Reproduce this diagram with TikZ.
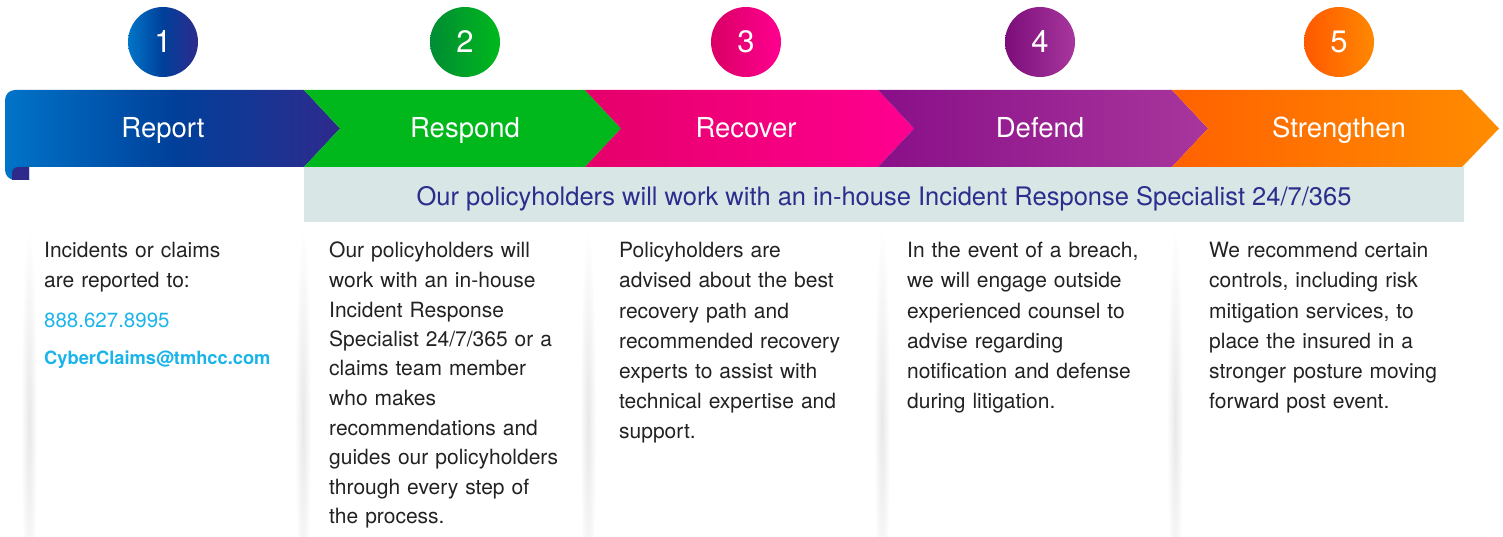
\documentclass[tikz,border=0pt]{standalone}
\usepackage{fontspec}
\setmainfont{TeX Gyre Heros}
\usepackage{tikz}

\definecolor{rptA}{HTML}{0074C8}
\definecolor{rptB}{HTML}{00409A}
\definecolor{rptC}{HTML}{2E2A8C}
\definecolor{rspA}{HTML}{008C34}
\definecolor{rspB}{HTML}{00B81C}
\definecolor{rcvA}{HTML}{E5006A}
\definecolor{rcvB}{HTML}{FF0090}
\definecolor{dfnA}{HTML}{890F88}
\definecolor{dfnB}{HTML}{A8369D}
\definecolor{strA}{HTML}{FF6200}
\definecolor{strB}{HTML}{FF8C00}
\definecolor{hdrbox}{HTML}{D9E6E6}
\definecolor{hdrtext}{HTML}{2B2E8C}
\definecolor{bodygray}{HTML}{222222}
\definecolor{linkcyan}{HTML}{1BB4EA}

\pgfdeclarehorizontalshading{rptshade}{100bp}{color(0bp)=(rptA); color(25bp)=(rptA); color(50bp)=(rptB); color(75bp)=(rptC); color(100bp)=(rptC)}

\begin{document}
\begin{tikzpicture}[x=1pt, y=-1pt,
  numcirc/.style={circle, minimum size=70pt, inner sep=0pt, text=white, font=\fontsize{31}{31}\selectfont},
  steplabel/.style={anchor=base, text=white, font=\fontsize{27.5}{27.5}\selectfont},
  bodytext/.style={anchor=base west, inner sep=0pt, text width=262pt, align=left, text=bodygray, font=\fontsize{21}{30}\selectfont},
  panelshadow/.style={inner color=black!9, outer color=white}]
\useasboundingbox (0,0) rectangle (1503,537);

% soft shadows between the columns
\foreach \x in {29,303,588,882,1175}
  \shade[panelshadow] (\x-8,225) rectangle (\x+8,620);

% numbered circles
\node[numcirc, shading=rptshade] (num1) at (163,42) {1};
\node[numcirc, left color=rspA, right color=rspB] (num2) at (465,42) {2};
\node[numcirc, left color=rcvA!95!black, right color=rcvB] (num3) at (746,42) {3};
\node[numcirc, left color=dfnA!90!black, right color=dfnB] (num4) at (1040,42) {4};
\node[numcirc, left color=strA!90!red, right color=strB!90!strA] (num5) at (1339,42) {5};

% arrow banner
\begin{scope}
  \clip[rounded corners=10] (5,90) rectangle (380,180);
  \shade[shading=rptshade] (5,90) -- (304,90) -- (340,128.5) -- (304,167) -- (29,167) -- (29,180) -- (5,180) -- cycle;
\end{scope}
\begin{scope}
  \clip (12,167) rectangle (29,180);
  \fill[rptC, rounded corners=6] (12,167) rectangle (45,200);
\end{scope}
\shade[left color=rspB, right color=rspB] (304,90) -- (585,90) -- (621,128.5) -- (585,167) -- (304,167) -- (340,128.5) -- cycle;
\shade[left color=rcvA, right color=rcvB] (585,90) -- (878,90) -- (914,128.5) -- (878,167) -- (585,167) -- (621,128.5) -- cycle;
\shade[left color=dfnA, right color=dfnB] (878,90) -- (1172,90) -- (1208,128.5) -- (1172,167) -- (878,167) -- (914,128.5) -- cycle;
\shade[left color=strA, right color=strB] (1172,90) -- (1462,90) -- (1499,128.5) -- (1462,167) -- (1172,167) -- (1208,128.5) -- cycle;

\node[steplabel] (s1) at (163,138) {Report};
\node[steplabel] (s2) at (465,138) {Respond};
\node[steplabel] (s3) at (746,138) {Recover};
\node[steplabel] (s4) at (1040,138) {Defend};
\node[steplabel] (s5) at (1339,138) {Strengthen};

% specialist bar
\fill[hdrbox] (304,167) rectangle (1464,222);
\node[anchor=base, text=hdrtext, font=\fontsize{25.5}{25.5}\selectfont] (hdr) at (884,206)
  {Our policyholders will work with an in-house Incident Response Specialist 24/7/365};

% column texts
\node[bodytext] (txt1) at (44,258) {Incidents or claims\\are reported to:};
\node[anchor=base west, inner sep=0pt, text=linkcyan, font=\fontsize{20.5}{20.5}\selectfont] (phone) at (44,327) {888.627.8995};
\node[anchor=base west, inner sep=0pt, text=linkcyan, font=\fontsize{18.3}{18.3}\selectfont\bfseries] (mail) at (44,364) {CyberClaims@tmhcc.com};

\node[bodytext, font=\fontsize{21}{29.5}\selectfont] (txt2) at (329,258) {Our policyholders will\\work with an in-house\\Incident Response\\Specialist 24/7/365 or a\\claims team member\\who makes\\recommendations and\\guides our policyholders\\through every step of\\the process.};
\node[bodytext] (txt3) at (619,258) {Policyholders are\\advised about the best\\recovery path and\\recommended recovery\\experts to assist with\\technical expertise and\\support.};
\node[bodytext] (txt4) at (907,258) {In the event of a breach,\\we will engage outside\\experienced counsel to\\advise regarding\\notification and defense\\during litigation.};
\node[bodytext] (txt5) at (1209,258) {We recommend certain\\controls, including risk\\mitigation services, to\\place the insured in a\\stronger posture moving\\forward post event.};
\end{tikzpicture}
\end{document}
